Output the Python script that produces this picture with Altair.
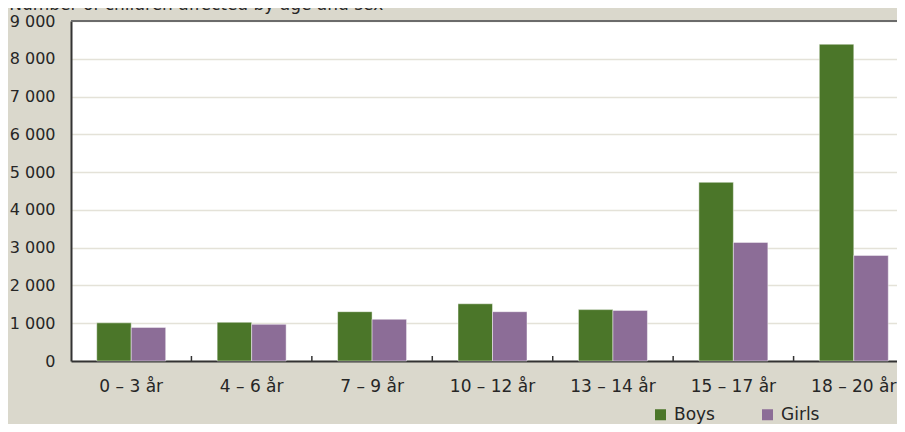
import altair as alt
import pandas as pd

categories = ["0 – 3 år", "4 – 6 år", "7 – 9 år", "10 – 12 år", "13 – 14 år", "15 – 17 år", "18 – 20 år"]
series = ["Boys", "Girls"]
boys = [1010, 1025, 1305, 1515, 1360, 4730, 8385]
girls = [890, 970, 1105, 1305, 1340, 3140, 2795]
y_ticks = [0, 1000, 2000, 3000, 4000, 5000, 6000, 7000, 8000, 9000]
colors = ["#4b7629", "#8c6d97"]
title_text = "Number of children affected by age and sex"

rows = []
for c, b, g in zip(categories, boys, girls):
    rows.append({"age": c, "sex": "Boys", "n": b})
    rows.append({"age": c, "sex": "Girls", "n": g})
df = pd.DataFrame(rows)
ticks_df = pd.DataFrame({"age": categories[1:]})

W = 826
H = 340
STEP = 120.43
FONT = "DejaVu Sans"
FS = 17
TXT = "#262626"

x_scale = alt.Scale(domain=categories, range=[0, STEP * len(categories)], paddingInner=0, paddingOuter=0)
x_axis = alt.Axis(title=None, labelAngle=0, ticks=False, tickSize=0, labelPadding=17,
                  domainColor="#333333", domainWidth=2, labelFont=FONT, labelFontSize=FS,
                  labelColor=TXT, grid=False)
y_axis = alt.Axis(values=y_ticks, title=None, ticks=False, tickSize=0, labelPadding=16,
                  labelOverlap=False, labelFlush=False,
                  labelExpr="replace(format(datum.value, ','), ',', ' ')",
                  grid=True, gridColor="#e4e2d8", gridWidth=1.5,
                  domainColor="#333333", domainWidth=2,
                  labelFont=FONT, labelFontSize=16, labelColor=TXT)
y_scale = alt.Scale(domain=[0, 9000], nice=False)

bars = alt.Chart(df).mark_bar(stroke="#ffffff", strokeOpacity=0.45, strokeWidth=1).encode(
    x=alt.X("age:N", scale=x_scale, sort=categories, axis=x_axis),
    xOffset=alt.XOffset("sex:N", scale=alt.Scale(domain=series, paddingInner=0, paddingOuter=0.746)),
    y=alt.Y("n:Q", scale=y_scale, axis=y_axis),
    color=alt.Color("sex:N", scale=alt.Scale(domain=series, range=colors),
                    legend=alt.Legend(title=None, orient="none", legendX=581, legendY=385,
                                      direction="horizontal", symbolType="square", symbolSize=121,
                                      symbolStrokeWidth=0, labelFont=FONT, labelFontSize=FS,
                                      labelColor=TXT, labelOffset=5, columnPadding=44, padding=0)),
)

ticks = alt.Chart(ticks_df).mark_rule(color="#333333", strokeWidth=1.5).encode(
    x=alt.X("age:N", scale=x_scale, sort=categories, axis=x_axis, bandPosition=0),
    y=alt.value(H),
    y2=alt.value(H - 5),
)

top = alt.Chart(ticks_df).mark_rule(color="#6b6b6b", strokeWidth=2).encode(
    y=alt.Y(datum=9000, scale=y_scale, axis=y_axis),
    x=alt.value(0),
    x2=alt.value(W),
)

chart = alt.layer(bars, ticks, top).properties(
    width=W,
    height=H,
    autosize=alt.AutoSizeParams(type="none"),
    padding={"left": 63, "top": 13, "right": 0, "bottom": 63},
    title=alt.TitleParams(title_text, anchor="start", offset=0, dy=1, fontSize=FS,
                          font=FONT, fontWeight="normal", color=TXT),
).configure(background="#dad8cc").configure_view(stroke="transparent", fill="white")

chart.save("out.html", embed_options={"renderer": "svg", "actions": False})
